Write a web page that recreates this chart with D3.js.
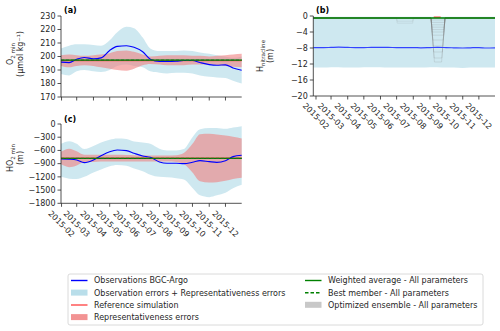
<!DOCTYPE html>
<html><head><meta charset="utf-8">
<script src="https://cdn.jsdelivr.net/npm/d3@7/dist/d3.min.js"></script>
<style>
body{margin:0;background:#fff;}
svg{font-family:"DejaVu Sans",sans-serif;}
</style></head><body>
<svg id="c" width="500" height="331"></svg>
<script>
// ---------- DATA ----------
const dates = ["2015-01-31","2015-02-15","2015-03-01","2015-03-15","2015-04-01","2015-04-15","2015-05-01","2015-05-15","2015-06-01","2015-06-15","2015-07-01","2015-07-15","2015-08-01","2015-08-15","2015-09-01","2015-09-15","2015-10-01","2015-10-15","2015-11-01","2015-11-15","2015-12-01","2015-12-15","2015-12-31"];
const monthTicks = ["2015-02","2015-03","2015-04","2015-05","2015-06","2015-07","2015-08","2015-09","2015-10","2015-11","2015-12"];

// (a) O2 min
const o2Obs   = [195.8,195.5,198,199.3,198.3,199,204.5,207.5,208,206.8,203.5,198,196.3,196.3,196.5,197,197,195.5,194,193.5,193.8,191.5,189.8];
const o2ObsHi = [206,208,209,209,208.5,208,212,218,222,221,214,206,204,204,204,204.5,204,203,202,201,200,199,200];
const o2ObsLo = [187,186,189,190,189,188.5,190,193,194,193,192,189,188,187.5,188,188,187.5,186,185,184.5,184,182,180];
const o2Ref   = [197,197,197,197,197,197,197,197,197,197,197,197,197,197,197,197,197,197,197,197,197,197,197];
const o2RepHi = [201,201.5,201,200.5,201,201.5,202.5,204,204.5,203.5,201.5,200,200.5,201,201,201,200.5,200.5,200,200.5,201,201.5,202];
const o2RepLo = [193,192,193,193.5,193,192,191,190,189.5,191,193.5,194.5,194,193.5,193.5,193.5,194,194,194,193.5,193,192.5,192];
const o2Wavg  = [197.3,197.3,197.3,197.3,197.3,197.3,197.3,197.3,197.3,197.3,197.3,197.3,197.3,197.3,197.3,197.3,197.3,197.3,197.3,197.3,197.3,197.3,197.3];
const o2EnsHi = [198,198,198,198,198,198,198,198,198,198,198,198,198,198,198,198,198,198,198,198,198,198,198];
const o2EnsLo = [196.6,196.6,196.6,196.6,196.6,196.6,196.6,196.6,196.6,196.6,196.6,196.6,196.6,196.6,196.6,196.6,196.6,196.6,196.6,196.6,196.6,196.6,196.6];
const o2Ticks = [170,180,190,200,210,220,230];

// (c) HO2 min
const hoObs   = [-794,-800,-817,-877,-817,-720,-628,-590,-605,-665,-726,-756,-862,-892,-892,-900,-870,-832,-855,-870,-832,-741,-711];
const hoObsHi = [-450,-390,-450,-570,-500,-420,-360,-330,-340,-400,-420,-450,-560,-600,-600,-570,-300,-120,-90,-90,-110,-80,-50];
const hoObsLo = [-1200,-1240,-1250,-1200,-1100,-1030,-960,-930,-950,-1010,-1070,-1150,-1200,-1210,-1230,-1260,-1450,-1620,-1660,-1620,-1560,-1460,-1380];
const hoRef   = [-775,-775,-775,-775,-775,-775,-775,-775,-775,-775,-775,-775,-775,-775,-775,-775,-775,-775,-775,-775,-775,-775,-775];
const hoRepHi = [-630,-560,-620,-700,-700,-700,-700,-700,-705,-710,-715,-715,-715,-715,-710,-660,-450,-230,-220,-240,-260,-290,-330];
const hoRepLo = [-910,-980,-940,-860,-860,-850,-850,-850,-850,-850,-850,-850,-850,-850,-860,-910,-1100,-1300,-1330,-1320,-1290,-1250,-1220];
const hoWavg  = [-780,-780,-780,-780,-780,-780,-780,-780,-780,-780,-780,-780,-780,-780,-780,-780,-780,-780,-780,-780,-780,-780,-780];
const hoTicks = [0,-300,-600,-900,-1200,-1500,-1800];

// (b) H nitracline
const datesB  = ["2015-01-27","2015-02-15","2015-03-01","2015-03-15","2015-04-01","2015-04-15","2015-05-01","2015-05-15","2015-06-01","2015-06-15","2015-07-01","2015-07-15","2015-08-01","2015-08-15","2015-09-01","2015-09-15","2015-10-01","2015-10-15","2015-11-01","2015-11-15","2015-12-01","2015-12-15","2015-12-31"];
const hnObs   = [-7.9,-7.9,-7.85,-7.8,-7.85,-7.9,-7.9,-7.85,-7.85,-7.85,-7.9,-7.9,-7.9,-7.95,-7.9,-7.85,-7.9,-7.95,-8.0,-7.95,-7.9,-8.0,-7.95];
const hnObsHi = [-0.2,-0.2,-0.2,-0.2,-0.2,-0.2,-0.2,-0.2,-0.2,-0.2,-0.2,-0.2,-0.2,-0.2,-0.2,-0.2,-0.2,-0.2,-0.2,-0.2,-0.2,-0.2,-0.2];
const hnObsLo = [-12.9,-12.9,-12.8,-12.8,-12.9,-12.9,-12.8,-12.8,-12.8,-12.9,-12.9,-12.9,-12.9,-12.9,-12.8,-12.8,-12.9,-12.9,-13.0,-12.9,-12.9,-12.9,-12.9];
const hnWavg  = [-0.5,-0.5,-0.5,-0.5,-0.5,-0.5,-0.5,-0.5,-0.5,-0.5,-0.5,-0.5,-0.5,-0.5,-0.5,-0.5,-0.5,-0.5,-0.5,-0.5,-0.5,-0.5,-0.5];
// ensemble members (b): dates and depths of each member's dip
const ensDatesSep = ["2015-09-03","2015-09-29"];
const ensDepthSep = [-1.0,-1.6,-2.2,-2.8,-3.4,-4.0,-4.8,-6.0,-7.5,-9.0,-10.5,-11.5];
const ensDatesJul = ["2015-07-01","2015-08-01"];
const ensDepthJul = [-1.3,-1.8];
const hnRefDates = ["2015-09-08","2015-09-21"];
const hnRefVals  = [-0.3,-0.3];
const hnTicks = [0,-4,-8,-12,-16,-20];

// ---------- DRAW ----------
const svg = d3.select("#c");
const P = d => d3.timeParse("%Y-%m-%d")(d);
const fmtMinus = v => (v<0? "\u2212"+Math.abs(v) : ""+v);
const C = {blue:"#0000ff", lblue:"#add8e6", red:"#ff4d4d", lred:"#f08080", green:"#008000", axis:"#262626"};

function panel(o){
  const g = svg.append("g");
  const x = d3.scaleTime().domain(o.xdom).range([o.x0,o.x1]);
  const y = d3.scaleLinear().domain(o.ydom).range([o.y1,o.y0]);
  return {g,x,y};
}
function band(p, ds, hi, lo, fill, op){
  const a = d3.area().x((d,i)=>p.x(P(ds[i]))).y0((d,i)=>p.y(lo[i])).y1((d,i)=>p.y(hi[i])).curve(d3.curveMonotoneX);
  p.g.append("path").datum(hi).attr("d",a).attr("fill",fill).attr("fill-opacity",op);
}
function line(p, ds, vals, color, w, dash){
  const l = d3.line().x((d,i)=>p.x(P(ds[i]))).y(d=>p.y(d)).curve(d3.curveMonotoneX);
  const pa = p.g.append("path").datum(vals).attr("d",l).attr("fill","none").attr("stroke",color).attr("stroke-width",w);
  if(dash) pa.attr("stroke-dasharray",dash);
}
function axes(p, yt, showX, labelDy){
  const g = p.g;
  const [x0,x1] = p.x.range(), [yb,yt0] = p.y.range();
  g.append("line").attr("x1",x0).attr("x2",x0).attr("y1",yt0).attr("y2",yb).attr("stroke",C.axis).attr("stroke-width",0.8);
  g.append("line").attr("x1",x0).attr("x2",x1).attr("y1",yb).attr("y2",yb).attr("stroke",C.axis).attr("stroke-width",0.8);
  yt.forEach(v=>{
    const yy = p.y(v);
    g.append("line").attr("x1",x0-3.5).attr("x2",x0).attr("y1",yy).attr("y2",yy).attr("stroke",C.axis).attr("stroke-width",0.8);
    g.append("text").attr("x",x0-5.5).attr("y",yy).attr("dy","0.35em").attr("text-anchor","end").attr("font-size",8).attr("fill",C.axis).text(fmtMinus(v));
  });
  monthTicks.forEach(m=>{
    const xx = p.x(d3.timeParse("%Y-%m")(m));
    g.append("line").attr("x1",xx).attr("x2",xx).attr("y1",yb).attr("y2",yb+3.5).attr("stroke",C.axis).attr("stroke-width",0.8);
    if(showX){
      g.append("text").attr("transform",`translate(${xx},${yb+labelDy}) rotate(45)`).attr("text-anchor","middle").attr("dy","0.35em").attr("font-size",8).attr("fill",C.axis).text(m);
    }
  });
}
function ylabel(x, y, main, sub, second){
  const t = svg.append("g").attr("transform",`translate(${x},${y}) rotate(-90)`);
  const tx = t.append("text").attr("text-anchor","middle").attr("font-size",8).attr("fill",C.axis);
  tx.append("tspan").text(main);
  tx.append("tspan").attr("font-size",5.6).attr("dy",2).text(sub);
  t.append("text").attr("y",10).attr("text-anchor","middle").attr("font-size",8).attr("fill",C.axis).text(second);
}
function title(x,y,s){ svg.append("text").attr("x",x).attr("y",y).attr("font-size",8).attr("font-weight","bold").attr("fill","#000").text(s); }

// Panel (a)
const pa = panel({xdom:[P("2015-01-31"),P("2015-12-31")], ydom:[170,230], x0:61, x1:241.7, y0:16, y1:97});
band(pa, dates, o2ObsHi, o2ObsLo, C.lblue, 0.6);
band(pa, dates, o2RepHi, o2RepLo, C.lred, 0.6);
band(pa, dates, o2EnsHi, o2EnsLo, "#9a9a9a", 0.6);
line(pa, dates, o2Ref, C.red, 1.2);
line(pa, dates, o2Obs, C.blue, 1.1);
line(pa, dates, o2Wavg, C.green, 1.4);
line(pa, dates, o2Wavg, "#1f6f1f", 1.0, "3,2");
axes(pa, o2Ticks, false, 0);
title(64,13,"(a)");
ylabel(13, 54, "O", "2 min", "(\u00b5mol kg\u207b\u00b9)");

// Panel (c)
const pc = panel({xdom:[P("2015-01-31"),P("2015-12-31")], ydom:[-1800,0], x0:61, x1:241.7, y0:124, y1:203.3});
band(pc, dates, hoObsHi, hoObsLo, C.lblue, 0.6);
band(pc, dates, hoRepHi, hoRepLo, C.lred, 0.6);
line(pc, dates, hoRef, C.red, 1.2);
line(pc, dates, hoObs, C.blue, 1.1);
line(pc, dates, hoWavg, C.green, 1.4);
line(pc, dates, hoWavg, "#1f6f1f", 1.0, "3,2");
axes(pc, hoTicks, true, 20.5);
title(64,122,"(c)");
ylabel(13, 158, "HO", "2 min", "(m)");

// Panel (b)
const pb = panel({xdom:[P("2015-01-27"),P("2015-12-31")], ydom:[-20,0], x0:313.3, x1:495, y0:16, y1:96});
band(pb, datesB, hnObsHi, hnObsLo, C.lblue, 0.6);
function member(p, dd, depth, op){
  const a = P(dd[0]), b = P(dd[1]);
  const k = Math.abs(depth)*0.55*86400000;
  const pts = [[P("2015-01-27"),-0.5],[a,-0.5],[new Date(+a+k),depth],[new Date(+b-k),depth],[b,-0.5],[P("2015-12-31"),-0.5]];
  p.g.append("path").attr("d",d3.line().x(d=>p.x(d[0])).y(d=>p.y(d[1]))(pts)).attr("fill","none").attr("stroke","#7a7a7a").attr("stroke-opacity",op).attr("stroke-width",0.6);
}
ensDepthSep.forEach(d=>member(pb, ensDatesSep, d, 0.3));
ensDepthJul.forEach(d=>member(pb, ensDatesJul, d, 0.2));
line(pb, datesB, hnObs, "#3344ff", 1.2);
pb.g.append("path").attr("d",d3.line().x(d=>pb.x(P(d[0]))).y(d=>pb.y(d[1]))(hnRefDates.map((d,i)=>[d,hnRefVals[i]]))).attr("stroke",C.red).attr("stroke-width",1.4).attr("fill","none");
line(pb, datesB, hnWavg, C.green, 1.3);
axes(pb, hnTicks, true, 20);
title(316,13,"(b)");
ylabel(263, 56, "H", "nitracline", "(m)");

// Legend
const lg = svg.append("g");
lg.append("rect").attr("x",68).attr("y",274).attr("width",415).attr("height",51).attr("rx",2).attr("fill","#fff").attr("stroke","#d0d0d0").attr("stroke-width",0.8);
const leg1 = [
  {t:"Observations BGC-Argo", k:"line", c:C.blue},
  {t:"Observation errors + Representativeness errors", k:"rect", c:C.lblue},
  {t:"Reference simulation", k:"line", c:C.red},
  {t:"Representativeness errors", k:"rect", c:C.lred}];
const leg2 = [
  {t:"Weighted average - All parameters", k:"line", c:C.green},
  {t:"Best member - All parameters", k:"dash", c:C.green},
  {t:"Optimized ensemble - All parameters", k:"rect", c:"#c8c8c8"}];
const rowY = [280.5,292.8,305,317.3];
function legCol(items, hx, tx){
  items.forEach((d,i)=>{
    const yy = rowY[i];
    if(d.k==="rect") lg.append("rect").attr("x",hx).attr("y",yy-3.2).attr("width",16.5).attr("height",6).attr("fill",d.c).attr("fill-opacity",d.c==="#c8c8c8"?1:0.85);
    else { const l = lg.append("line").attr("x1",hx).attr("x2",hx+16.5).attr("y1",yy).attr("y2",yy).attr("stroke",d.c).attr("stroke-width",1.4); if(d.k==="dash") l.attr("stroke-dasharray","3.5,2"); }
    lg.append("text").attr("x",tx).attr("y",yy).attr("dy","0.35em").attr("font-size",8).attr("fill",C.axis).text(d.t);
  });
}
legCol(leg1, 71, 94);
legCol(leg2, 305, 328);
</script></body></html>
